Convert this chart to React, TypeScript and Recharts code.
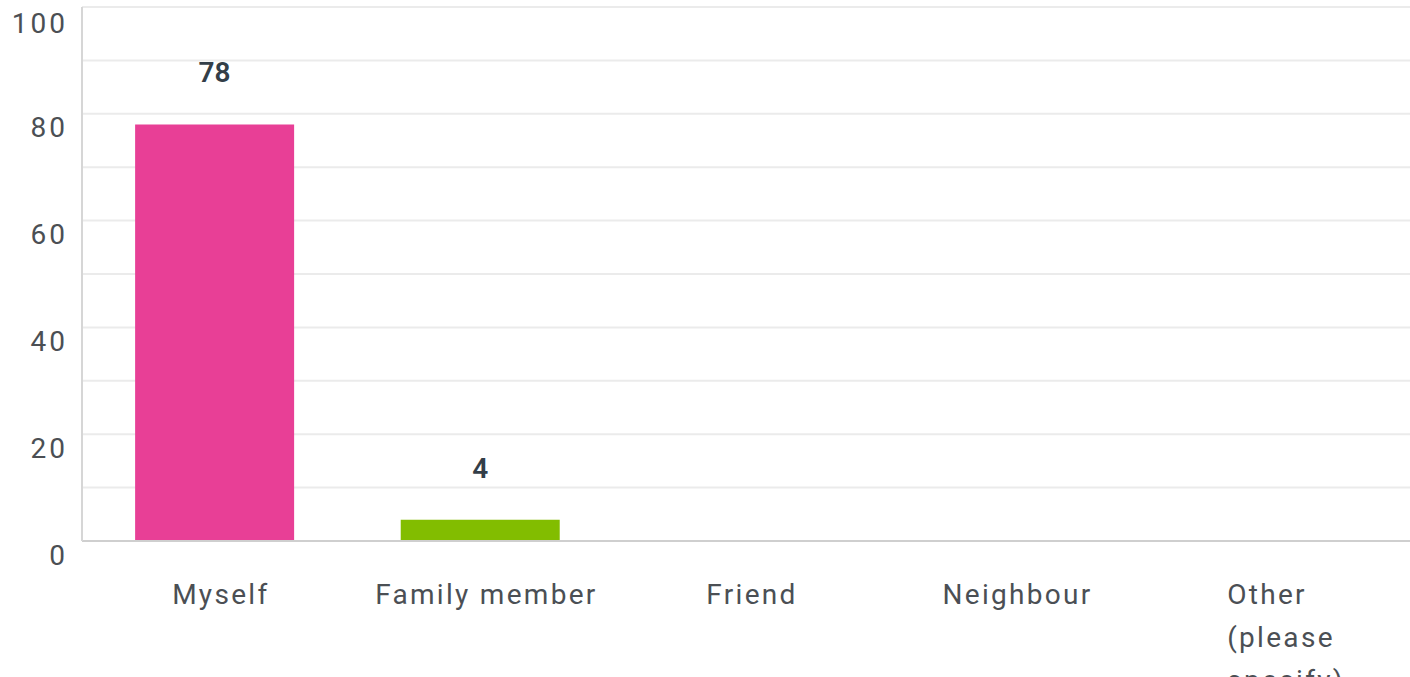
import { Bar, BarChart, CartesianGrid, Cell, LabelList, XAxis, YAxis } from "recharts";

const categories = ["Myself", "Family member", "Friend", "Neighbour", "Other (please specify)"];
const responses = [78, 4, 0, 0, 0];
const barColors = ["#e83f96", "#82bd00", "#00bf6f", "#2dccd3", "#f05b24"];
const yTicks = [0, 10, 20, 30, 40, 50, 60, 70, 80, 90, 100];
const yLabels = [0, 20, 40, 60, 80, 100];

const data = categories.map((name, i) => ({ name, value: responses[i] }));

const FONT = "Roboto, 'Noto Sans', sans-serif";

function YTick({ x, y, payload }: { x?: number; y?: number; payload?: { value: number } }) {
  if (!payload || !yLabels.includes(payload.value)) return null;
  return (
    <text
      x={(x ?? 0) - 6}
      y={(y ?? 0) + 14}
      textAnchor="end"
      dominantBaseline="central"
      fontFamily={FONT}
      fontSize={28}
      letterSpacing={3}
      fill="#4b4f54"
    >
      {payload.value}
    </text>
  );
}

function wrapLabel(label: string) {
  // split longer labels the way the original wraps them
  if (label.length <= 14) return [label];
  return label.replace("(please specify)", "(please|specify)").split(/\s|\|/).filter(Boolean);
}

function XTick({ x, y, payload }: { x?: number; y?: number; payload?: { value: string } }) {
  if (!payload) return null;
  const lines = wrapLabel(payload.value);
  const multi = lines.length > 1;
  const tx = (x ?? 0) + (multi ? -50 : 6);
  return (
    <text
      x={tx}
      y={(y ?? 0) + 55}
      textAnchor={multi ? "start" : "middle"}
      fontFamily={FONT}
      fontSize={28}
      letterSpacing={2.3}
      fill="#4b4f54"
    >
      {lines.map((line, i) => (
        <tspan key={line} x={tx} dy={i === 0 ? 0 : 43}>
          {line}
        </tspan>
      ))}
    </text>
  );
}

export default function App() {
  return (
    <div style={{ width: 1410, height: 677, background: "#fff" }}>
      <style>{"body{margin:0}"}</style>
      <BarChart
        width={1410}
        height={677}
        data={data}
        margin={{ top: 7, right: 0, left: 0, bottom: 0 }}
        barCategoryGap="20%"
      >
        <CartesianGrid stroke="#ebebeb" strokeWidth={2} vertical={false} />
        <XAxis
          dataKey="name"
          interval={0}
          height={136}
          tickLine={false}
          axisLine={{ stroke: "#cfcfcf", strokeWidth: 2 }}
          tick={<XTick />}
        />
        <YAxis
          domain={[0, 100]}
          ticks={yTicks}
          width={82}
          tickLine={false}
          axisLine={{ stroke: "#d6d6d6", strokeWidth: 2 }}
          tick={<YTick />}
        />
        <Bar dataKey="value" isAnimationActive={false}>
          {data.map((d, i) => (
            <Cell key={d.name} fill={barColors[i]} />
          ))}
          <LabelList
            dataKey="value"
            position="top"
            offset={42}
            formatter={(v: number) => (v > 0 ? v : "")}
            fontFamily={FONT}
            fontSize={28}
            fontWeight={600}
            fill="#333e48"
          />
        </Bar>
      </BarChart>
    </div>
  );
}
